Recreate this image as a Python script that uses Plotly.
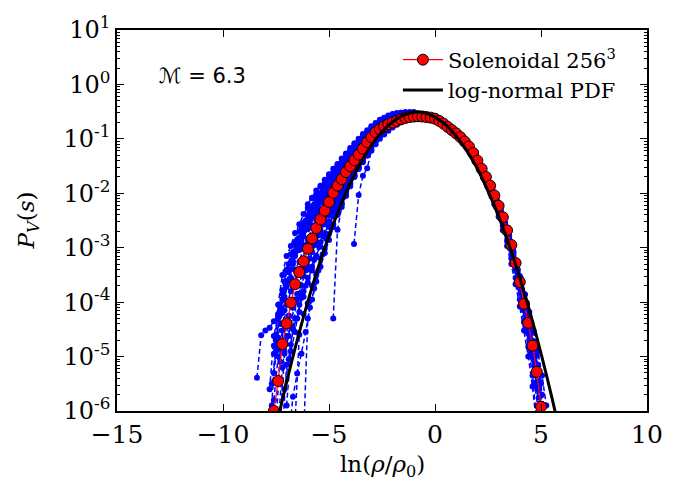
import plotly.graph_objects as go

# ---------------- data (log10 of P_V(s)) ----------------
red_s = [-7.6, -7.4, -7.2, -7.0, -6.8, -6.6, -6.4, -6.2, -6.0, -5.8, -5.6, -5.4, -5.2, -5.0,
         -4.8, -4.6, -4.4, -4.2, -4.0, -3.8, -3.6, -3.4, -3.2, -3.0, -2.8, -2.6, -2.4, -2.2,
         -2.0, -1.8, -1.6, -1.4, -1.2, -1.0, -0.8, -0.6, -0.4, -0.2, 0.0, 0.2, 0.4, 0.6, 0.8,
         1.0, 1.2, 1.4, 1.6, 1.8, 2.0, 2.2, 2.4, 2.6, 2.8, 3.0, 3.2, 3.4, 3.6, 3.8, 4.0, 4.2,
         4.4, 4.6, 4.8, 5.0, 5.2]
red_logp = [-6.0, -5.45, -4.77, -4.39, -4.01, -3.67, -3.45, -3.25, -3.02, -2.83, -2.64, -2.48,
            -2.32, -2.16, -1.99, -1.86, -1.74, -1.61, -1.50, -1.39, -1.29, -1.18, -1.06, -0.97,
            -0.88, -0.82, -0.77, -0.73, -0.70, -0.67, -0.64, -0.615, -0.60, -0.59, -0.585,
            -0.59, -0.60, -0.61, -0.63, -0.67, -0.72, -0.78, -0.84, -0.90, -0.97, -1.05, -1.14,
            -1.26, -1.40, -1.55, -1.70, -1.86, -2.04, -2.23, -2.44, -2.68, -2.95, -3.28, -3.63,
            -4.03, -4.38, -4.80, -5.28, -5.92, -6.9]

lognormal_s = [-7.5, -7.0, -6.5, -6.0, -5.5, -5.0, -4.5, -4.0, -3.5, -3.0, -2.5, -2.0, -1.5,
               -1.0, -0.5, 0.0, 0.5, 1.0, 1.5, 2.0, 2.5, 3.0, 3.5, 4.0, 4.5, 5.0, 5.5, 6.0]
lognormal_logp = [-6.31, -5.47, -4.70, -3.99, -3.35, -2.78, -2.27, -1.82, -1.44, -1.12, -0.87,
                  -0.69, -0.57, -0.51, -0.52, -0.60, -0.74, -0.95, -1.22, -1.55, -1.96, -2.42,
                  -2.95, -3.55, -4.21, -4.94, -5.73, -6.59]

# blue time snapshots, left tail (values aligned to the END of each grid)
grid_a = [-8.4, -8.2, -8.0, -7.8, -7.6, -7.4, -7.2, -7.0, -6.8, -6.6, -6.4, -6.2, -6.0, -5.8,
          -5.6, -5.4, -5.2, -5.0, -4.8, -4.6, -4.4, -4.2, -4.0, -3.8, -3.6, -3.4, -3.2, -3.0,
          -2.8, -2.6, -2.4, -2.2, -2.0, -1.8, -1.6, -1.4, -1.2, -1.0]
grid_b = [-7.7, -7.5, -7.3, -7.1, -6.9, -6.7, -6.5, -6.3, -6.1, -5.9, -5.7, -5.5, -5.3, -5.1,
          -4.9, -4.7, -4.5, -4.3, -4.1, -3.9, -3.7, -3.5, -3.3, -3.1, -2.9, -2.7, -2.5, -2.3,
          -2.1, -1.9, -1.7, -1.5, -1.3, -1.1]

blue_a_curves = [
    [-5.39, -4.61, -4.52, -4.47, -4.35, -4.22, -3.95, -3.62, -3.40, -3.10, -2.92, -2.70, -2.52,
     -2.38, -2.22, -2.10, -1.97, -1.85, -1.73, -1.60, -1.50, -1.40, -1.30, -1.19, -1.10, -1.00,
     -0.92, -0.84, -0.77, -0.71, -0.66, -0.62, -0.59, -0.57, -0.55, -0.54, -0.54, -0.54],
    [-4.95, -4.05, -3.50, -3.15, -2.97, -2.73, -2.57, -2.38, -2.27, -2.09, -2.02, -1.88, -1.82,
     -1.68, -1.62, -1.49, -1.42, -1.29, -1.21, -1.10, -1.03, -0.93, -0.87, -0.78, -0.74, -0.66,
     -0.63, -0.58, -0.56, -0.53, -0.52, -0.51, -0.51, -0.52],
    [-4.80, -4.30, -3.85, -3.42, -3.28, -2.93, -2.82, -2.58, -2.47, -2.25, -2.18, -2.02, -1.95,
     -1.80, -1.72, -1.58, -1.50, -1.37, -1.29, -1.16, -1.10, -0.99, -0.91, -0.83, -0.77, -0.71,
     -0.66, -0.62, -0.59, -0.56, -0.55, -0.54, -0.53, -0.53],
    [-5.30, -4.65, -4.20, -3.72, -3.55, -3.15, -3.04, -2.79, -2.66, -2.44, -2.34, -2.17, -2.08,
     -1.91, -1.81, -1.67, -1.58, -1.45, -1.36, -1.24, -1.16, -1.05, -0.96, -0.88, -0.80, -0.75,
     -0.69, -0.66, -0.62, -0.60, -0.58, -0.56, -0.555, -0.55],
    [-5.80, -5.00, -4.52, -4.05, -3.80, -3.40, -3.26, -3.00, -2.86, -2.63, -2.50, -2.32, -2.20,
     -2.03, -1.90, -1.76, -1.66, -1.52, -1.43, -1.31, -1.23, -1.11, -1.01, -0.93, -0.84, -0.78,
     -0.73, -0.69, -0.66, -0.635, -0.61, -0.59, -0.58, -0.57],
    [-6.30, -5.20, -4.62, -4.45, -3.95, -3.84, -3.52, -3.35, -3.08, -2.92, -2.68, -2.54, -2.33,
     -2.17, -2.00, -1.88, -1.71, -1.60, -1.47, -1.36, -1.24, -1.12, -1.01, -0.92, -0.85, -0.79,
     -0.74, -0.70, -0.66, -0.62, -0.60, -0.58, -0.565],
    [-6.40, -5.15, -4.78, -4.30, -4.18, -3.80, -3.64, -3.35, -3.17, -2.90, -2.75, -2.52, -2.34,
     -2.15, -2.01, -1.83, -1.69, -1.55, -1.42, -1.29, -1.17, -1.06, -0.96, -0.88, -0.81, -0.75,
     -0.695, -0.65, -0.60, -0.575, -0.56, -0.545],
    [-6.20, -4.60, -4.22, -4.02, -3.70, -3.49, -3.20, -3.02, -2.75, -2.57, -2.33, -2.18, -1.97,
     -1.82, -1.65, -1.50, -1.37, -1.23, -1.11, -1.01, -0.91, -0.83, -0.75, -0.69, -0.63, -0.585,
     -0.555, -0.535, -0.52],
    [-6.50, -4.30, -3.95, -3.62, -3.35, -3.10, -2.86, -2.62, -2.40, -2.20, -2.02, -1.84, -1.68,
     -1.53, -1.38, -1.25, -1.13, -1.03, -0.93, -0.84, -0.76, -0.70, -0.64, -0.59, -0.555, -0.535,
     -0.52],
    [-4.30, -2.67, -2.25, -2.05, -1.87, -1.70, -1.55, -1.40, -1.27, -1.14, -1.03, -0.93, -0.84,
     -0.76, -0.69, -0.63, -0.58, -0.55, -0.53, -0.51],
    [-5.60, -4.62, -4.25, -3.78, -3.40, -3.12, -2.90, -2.70, -2.54, -2.40, -2.26, -2.12, -2.00,
     -1.90, -1.78, -1.68, -1.57, -1.47, -1.37, -1.27, -1.18, -1.09, -1.00, -0.92, -0.84, -0.77,
     -0.71, -0.66, -0.62, -0.59, -0.565, -0.55, -0.54, -0.535, -0.53],
    [-5.90, -4.90, -4.55, -4.05, -3.90, -3.55, -3.42, -3.15, -2.98, -2.78, -2.62, -2.42, -2.27,
     -2.10, -1.96, -1.81, -1.68, -1.55, -1.43, -1.31, -1.20, -1.10, -1.00, -0.92, -0.85, -0.79,
     -0.74, -0.69, -0.65, -0.615, -0.59],
    [-2.20, -2.08, -1.95, -1.86, -1.75, -1.65, -1.55, -1.46, -1.36, -1.27, -1.17, -1.08, -1.00,
     -0.91, -0.84, -0.77, -0.71, -0.65, -0.61, -0.57, -0.545, -0.53, -0.52, -0.51, -0.51, -0.51],
]
blue_b_curves = [
    [-6.50, -5.74, -5.31, -4.95, -4.55, -4.10, -3.75, -3.42, -3.12, -2.85, -2.60, -2.40, -2.20,
     -2.02, -1.85, -1.69, -1.54, -1.40, -1.27, -1.15, -1.04, -0.94, -0.85, -0.77, -0.70, -0.64,
     -0.59, -0.56, -0.535, -0.52],
    [-6.30, -4.85, -4.90, -4.25, -4.50, -3.85, -3.70, -3.42, -3.20, -2.95, -2.77, -2.58, -2.41,
     -2.25, -2.09, -1.96, -1.82, -1.70, -1.58, -1.46, -1.35, -1.24, -1.14, -1.04, -0.95, -0.87,
     -0.80, -0.74, -0.69, -0.65, -0.62, -0.60, -0.585],
    [-5.90, -4.60, -4.40, -3.90, -3.60, -3.25, -3.05, -2.85, -2.60, -2.50, -2.30, -2.20, -2.05,
     -1.95, -1.82, -1.72, -1.60, -1.50, -1.39, -1.30, -1.20, -1.11, -1.02, -0.93, -0.86, -0.79,
     -0.73, -0.68, -0.64, -0.61, -0.585, -0.565, -0.55, -0.545],
    [-5.10, -4.15, -4.40, -3.70, -3.50, -3.38, -2.95, -2.90, -2.62, -2.45, -2.38, -2.20, -2.10,
     -1.98, -1.86, -1.76, -1.64, -1.55, -1.44, -1.34, -1.25, -1.15, -1.06, -0.97, -0.89, -0.82,
     -0.76, -0.71, -0.67, -0.635, -0.61, -0.595],
    [-4.70, -4.15, -3.62, -3.30, -3.08, -2.85, -2.66, -2.50, -2.34, -2.20, -2.06, -1.96, -1.84,
     -1.74, -1.63, -1.53, -1.44, -1.34, -1.25, -1.15, -1.07, -0.98, -0.90, -0.83, -0.76, -0.70,
     -0.65, -0.61, -0.58, -0.555, -0.54, -0.53, -0.525],
    [-5.60, -5.05, -4.48, -4.30, -3.92, -3.70, -3.40, -3.22, -2.96, -2.78, -2.56, -2.40, -2.22,
     -2.07, -1.92, -1.78, -1.65, -1.52, -1.40, -1.29, -1.18, -1.08, -0.99, -0.90, -0.83, -0.77,
     -0.72, -0.67, -0.63, -0.60, -0.58],
    [-5.50, -4.90, -4.10, -3.95, -3.45, -3.30, -3.00, -2.92, -2.66, -2.55, -2.38, -2.28, -2.12,
     -2.03, -1.88, -1.79, -1.65, -1.56, -1.45, -1.35, -1.26, -1.16, -1.07, -0.98, -0.90, -0.83,
     -0.77, -0.72, -0.68, -0.64, -0.61, -0.59, -0.575, -0.565],
    [-6.20, -4.95, -4.62, -4.10, -3.95, -3.50, -3.35, -3.05, -2.90, -2.72, -2.55, -2.40, -2.25,
     -2.10, -1.97, -1.84, -1.72, -1.60, -1.49, -1.38, -1.28, -1.18, -1.08, -0.99, -0.91, -0.84,
     -0.78, -0.73, -0.69, -0.655, -0.63, -0.61],
]
blue_outlier_s = [-3.82, -3.6, -3.4, -3.2, -3.0, -2.8, -2.6, -2.4, -2.2, -2.0, -1.8, -1.6, -1.4,
                  -1.2, -1.0]
blue_outlier_logp = [-2.93, -2.03, -1.68, -1.54, -1.22, -1.05, -0.94, -0.85, -0.77, -0.70, -0.64,
                     -0.59, -0.56, -0.54, -0.53]

# blue time snapshots, right tail (values aligned to the START of each grid)
grid_r1 = [2.0, 2.2, 2.4, 2.6, 2.8, 3.0, 3.2, 3.4, 3.6, 3.8, 4.0, 4.2, 4.4, 4.6, 4.8, 5.0, 5.2]
grid_r2 = [2.1, 2.3, 2.5, 2.7, 2.9, 3.1, 3.3, 3.5, 3.7, 3.9, 4.1, 4.3, 4.5, 4.7, 4.9, 5.1]
grid_r3 = [2.05, 2.25, 2.45, 2.65, 2.85, 3.05, 3.25, 3.45, 3.65, 3.85, 4.05, 4.25, 4.45, 4.65,
           4.85, 5.05, 5.25]
blue_r1_curves = [
    [-1.42, -1.58, -1.72, -1.90, -2.07, -2.28, -2.50, -2.75, -3.05, -3.38, -3.75, -4.15, -4.55,
     -5.00, -5.55, -6.40],
    [-1.45, -1.62, -1.78, -1.95, -2.12, -2.31, -2.52, -2.74, -2.98, -3.24, -3.52, -3.85, -4.18,
     -4.55, -4.98, -5.50, -6.30],
    [-1.43, -1.59, -1.76, -1.94, -2.14, -2.36, -2.60, -2.88, -3.20, -3.55, -3.95, -4.37, -4.82,
     -5.35, -6.20],
    [-1.41, -1.57, -1.73, -1.91, -2.10, -2.30, -2.52, -2.77, -3.03, -3.33, -3.66, -4.02, -4.42,
     -4.85, -5.32, -5.90, -6.60],
    [-1.44, -1.62, -1.80, -1.99, -2.20, -2.43, -2.68, -2.97, -3.30, -3.67, -4.08, -4.52, -5.00,
     -5.55, -6.30],
]
blue_r2_curves = [
    [-1.47, -1.61, -1.77, -1.93, -2.11, -2.31, -2.53, -2.78, -3.07, -3.40, -3.76, -4.12, -4.52,
     -4.98, -5.45, -6.20],
    [-1.46, -1.63, -1.80, -1.97, -2.16, -2.37, -2.60, -2.86, -3.15, -3.47, -3.85, -4.25, -4.68,
     -5.15, -5.75, -6.50],
    [-1.45, -1.60, -1.76, -1.93, -2.12, -2.33, -2.56, -2.82, -3.10, -3.42, -3.78, -4.18, -4.60,
     -5.08, -5.62, -6.30],
    [-1.48, -1.65, -1.83, -2.02, -2.23, -2.46, -2.71, -2.99, -3.30, -3.65, -4.05, -4.48, -4.95,
     -5.48, -6.10],
]
blue_r3_curves = [
    [-1.44, -1.58, -1.74, -1.91, -2.09, -2.29, -2.50, -2.74, -3.00, -3.30, -3.63, -3.98, -4.35,
     -4.72, -5.15, -5.70, -6.40],
    [-1.46, -1.61, -1.78, -1.96, -2.15, -2.35, -2.58, -2.83, -3.11, -3.42, -3.77, -4.15, -4.58,
     -5.05, -5.60, -6.30],
    [-1.47, -1.64, -1.81, -1.99, -2.18, -2.38, -2.59, -2.81, -3.04, -3.29, -3.56, -3.86, -4.18,
     -4.52, -4.90, -5.35, -5.90],
]

y_tick_vals = [1e-6, 1e-5, 1e-4, 1e-3, 1e-2, 1e-1, 1e0, 1e1]
y_tick_text = ["10<sup>-6</sup>", "10<sup>-5</sup>", "10<sup>-4</sup>", "10<sup>-3</sup>",
               "10<sup>-2</sup>", "10<sup>-1</sup>", "10<sup>0</sup>", "10<sup>1</sup>"]
x_tick_vals = [-15, -10, -5, 0, 5, 10]

# ---------------- figure ----------------
SERIF = "DejaVu Serif"
BLUE = "#0000ff"


def pv(logs):
    return [10 ** v for v in logs]


fig = go.Figure()


def add_blue(xs, logs):
    fig.add_trace(go.Scatter(
        x=xs, y=pv(logs), mode="lines+markers",
        line=dict(color=BLUE, width=1.5, dash="5px,3px"),
        marker=dict(size=6, color=BLUE),
        showlegend=False, hoverinfo="skip"))


for c in blue_a_curves:
    add_blue(grid_a[-len(c):], c)
for c in blue_b_curves:
    add_blue(grid_b[-len(c):], c)
add_blue(blue_outlier_s, blue_outlier_logp)
for c in blue_r1_curves:
    add_blue(grid_r1[:len(c)], c)
for c in blue_r2_curves:
    add_blue(grid_r2[:len(c)], c)
for c in blue_r3_curves:
    add_blue(grid_r3[:len(c)], c)

fig.add_trace(go.Scatter(
    x=red_s, y=pv(red_logp), mode="lines+markers", name="Solenoidal 256<sup>3</sup>",
    line=dict(color="#ff0000", width=1.2),
    marker=dict(size=11, color="#ff0000", line=dict(color="black", width=1))))

fig.add_trace(go.Scatter(
    x=lognormal_s, y=pv(lognormal_logp), mode="lines", name="log-normal PDF",
    line=dict(color="black", width=3, shape="spline")))

minor_vals = [m * 10 ** e for e in range(-6, 1) for m in range(2, 10)]

fig.update_layout(
    width=694, height=485,
    margin=dict(l=117, r=47, t=26, b=74),
    paper_bgcolor="white", plot_bgcolor="white",
    font=dict(family=SERIF, color="black"),
    showlegend=True,
    legend=dict(x=0.53, y=0.975, xanchor="left", yanchor="top",
                bgcolor="rgba(255,255,255,0)", borderwidth=0,
                font=dict(family=SERIF, size=21, color="black"),
                itemwidth=40, tracegroupgap=0),
    xaxis=dict(range=[-15, 10], tickmode="array", tickvals=x_tick_vals,
               ticks="inside", ticklen=7, tickwidth=1, tickcolor="black",
               showline=True, linecolor="black", linewidth=1.5, mirror="ticks",
               showgrid=False, zeroline=False,
               tickfont=dict(family=SERIF, size=25, color="black")),
    yaxis=dict(type="log", range=[-6, 1], tickmode="array", tickvals=y_tick_vals,
               ticktext=y_tick_text,
               ticks="inside", ticklen=7, tickwidth=1, tickcolor="black",
               showline=True, linecolor="black", linewidth=1.5, mirror="ticks",
               showgrid=False, zeroline=False,
               minor=dict(tickmode="array", tickvals=minor_vals, ticks="inside",
                          ticklen=3, tickcolor="black", tickwidth=1, showgrid=False),
               tickfont=dict(family=SERIF, size=24, color="black")),
    annotations=[
        dict(text="ℳ = 6.3", x=0.075, y=0.878, xref="paper", yref="paper",
             xanchor="left", yanchor="middle", showarrow=False,
             font=dict(family="DejaVu Sans", size=21, color="black")),
        dict(text="ln(<i>ρ</i>/<i>ρ</i><sub>0</sub>)", x=0.5, y=-0.145,
             xref="paper", yref="paper", xanchor="center", yanchor="middle",
             showarrow=False, font=dict(family=SERIF, size=23, color="black")),
        dict(text="<i>P</i><sub><i>V</i></sub>(<i>s</i>)", x=-0.168, y=0.5,
             xref="paper", yref="paper", xanchor="center", yanchor="middle",
             textangle=-90, showarrow=False,
             font=dict(family=SERIF, size=23, color="black")),
    ],
)

fig.write_html("out.html")
